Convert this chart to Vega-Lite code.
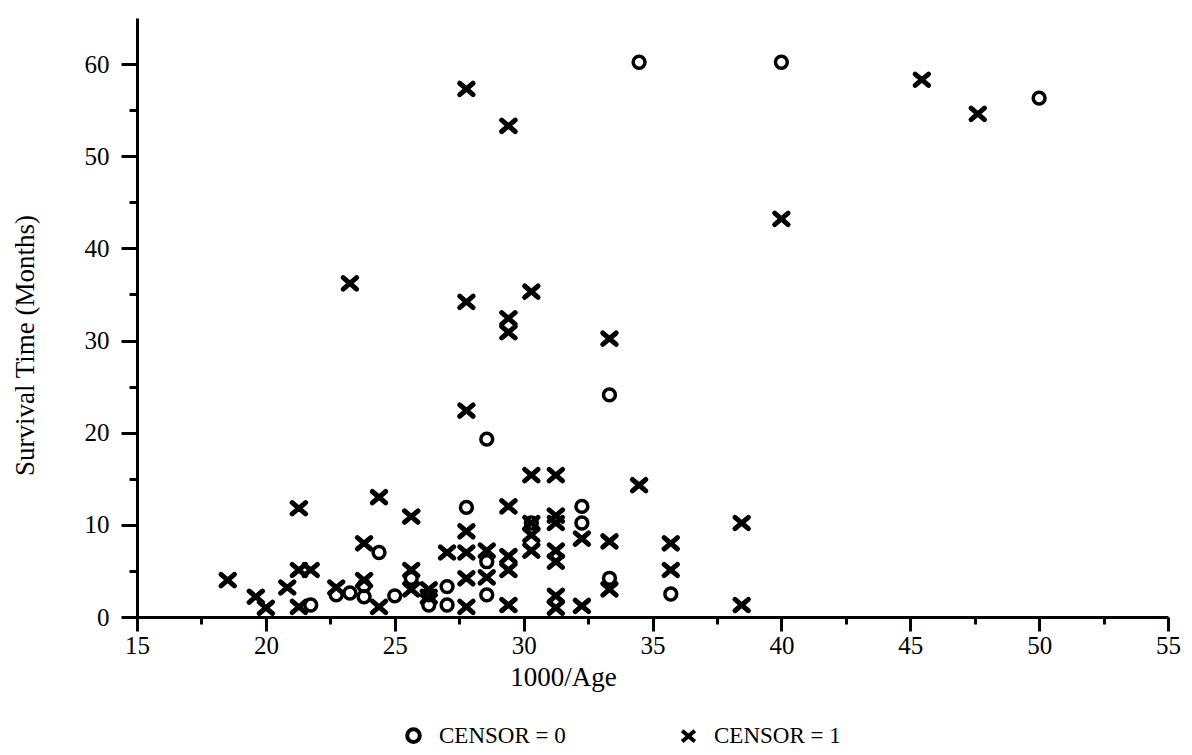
{
  "$schema": "https://vega.github.io/schema/vega-lite/v6.json",
  "width": 1031,
  "height": 599,
  "autosize": {"type": "none"},
  "padding": {"left": 137, "top": 18, "right": 24, "bottom": 138},
  "background": "white",
  "config": {
    "view": {"stroke": null},
    "font": "Liberation Serif",
    "axis": {
      "labelFont": "Liberation Serif",
      "titleFont": "Liberation Serif",
      "labelColor": "black",
      "titleColor": "black",
      "domainColor": "black",
      "tickColor": "black",
      "domainWidth": 3,
      "tickWidth": 3,
      "grid": false,
      "labelFontSize": 25,
      "titleFontSize": 27,
      "titleFontWeight": "normal"
    },
    "legend": {
      "labelFont": "Liberation Serif",
      "labelFontSize": 23,
      "labelColor": "black"
    }
  },
  "data": {
    "values": [
      {"x": 34.48, "y": 60.2, "censor": 0},
      {"x": 40.0, "y": 60.2, "censor": 0},
      {"x": 50.0, "y": 56.3, "censor": 0},
      {"x": 33.33, "y": 24.1, "censor": 0},
      {"x": 28.57, "y": 19.3, "censor": 0},
      {"x": 27.78, "y": 11.9, "censor": 0},
      {"x": 24.39, "y": 7.0, "censor": 0},
      {"x": 32.26, "y": 12.0, "censor": 0},
      {"x": 32.26, "y": 10.2, "censor": 0},
      {"x": 30.30, "y": 10.2, "censor": 0},
      {"x": 33.33, "y": 4.2, "censor": 0},
      {"x": 35.71, "y": 2.5, "censor": 0},
      {"x": 28.57, "y": 6.0, "censor": 0},
      {"x": 28.57, "y": 2.4, "censor": 0},
      {"x": 27.03, "y": 3.3, "censor": 0},
      {"x": 27.03, "y": 1.3, "censor": 0},
      {"x": 26.32, "y": 1.3, "censor": 0},
      {"x": 26.32, "y": 2.4, "censor": 0},
      {"x": 25.64, "y": 4.2, "censor": 0},
      {"x": 25.0, "y": 2.3, "censor": 0},
      {"x": 23.81, "y": 3.4, "censor": 0},
      {"x": 23.81, "y": 2.2, "censor": 0},
      {"x": 22.73, "y": 2.4, "censor": 0},
      {"x": 21.74, "y": 1.3, "censor": 0},
      {"x": 23.26, "y": 2.6, "censor": 0},
      {"x": 45.45, "y": 58.3, "censor": 1},
      {"x": 47.62, "y": 54.6, "censor": 1},
      {"x": 40.0, "y": 43.2, "censor": 1},
      {"x": 27.78, "y": 57.3, "censor": 1},
      {"x": 29.41, "y": 53.3, "censor": 1},
      {"x": 23.26, "y": 36.2, "censor": 1},
      {"x": 27.78, "y": 34.2, "censor": 1},
      {"x": 29.41, "y": 32.4, "censor": 1},
      {"x": 29.41, "y": 30.9, "censor": 1},
      {"x": 30.30, "y": 35.3, "censor": 1},
      {"x": 33.33, "y": 30.2, "censor": 1},
      {"x": 27.78, "y": 22.4, "censor": 1},
      {"x": 34.48, "y": 14.3, "censor": 1},
      {"x": 21.28, "y": 11.8, "censor": 1},
      {"x": 24.39, "y": 13.0, "censor": 1},
      {"x": 25.64, "y": 10.9, "censor": 1},
      {"x": 23.81, "y": 8.0, "censor": 1},
      {"x": 27.78, "y": 9.3, "censor": 1},
      {"x": 27.03, "y": 7.0, "censor": 1},
      {"x": 27.78, "y": 7.0, "censor": 1},
      {"x": 28.57, "y": 7.2, "censor": 1},
      {"x": 29.41, "y": 12.0, "censor": 1},
      {"x": 29.41, "y": 6.6, "censor": 1},
      {"x": 29.41, "y": 5.1, "censor": 1},
      {"x": 29.41, "y": 1.3, "censor": 1},
      {"x": 30.30, "y": 15.4, "censor": 1},
      {"x": 30.30, "y": 10.2, "censor": 1},
      {"x": 30.30, "y": 8.9, "censor": 1},
      {"x": 30.30, "y": 7.2, "censor": 1},
      {"x": 31.25, "y": 15.4, "censor": 1},
      {"x": 31.25, "y": 11.0, "censor": 1},
      {"x": 31.25, "y": 10.2, "censor": 1},
      {"x": 31.25, "y": 7.2, "censor": 1},
      {"x": 31.25, "y": 6.0, "censor": 1},
      {"x": 31.25, "y": 2.3, "censor": 1},
      {"x": 31.25, "y": 1.0, "censor": 1},
      {"x": 32.26, "y": 8.5, "censor": 1},
      {"x": 32.26, "y": 1.2, "censor": 1},
      {"x": 33.33, "y": 8.2, "censor": 1},
      {"x": 33.33, "y": 3.0, "censor": 1},
      {"x": 35.71, "y": 8.0, "censor": 1},
      {"x": 35.71, "y": 5.1, "censor": 1},
      {"x": 38.46, "y": 10.2, "censor": 1},
      {"x": 38.46, "y": 1.3, "censor": 1},
      {"x": 18.52, "y": 4.0, "censor": 1},
      {"x": 19.61, "y": 2.2, "censor": 1},
      {"x": 20.0, "y": 1.0, "censor": 1},
      {"x": 20.83, "y": 3.2, "censor": 1},
      {"x": 21.28, "y": 5.1, "censor": 1},
      {"x": 21.74, "y": 5.1, "censor": 1},
      {"x": 21.28, "y": 1.1, "censor": 1},
      {"x": 22.73, "y": 3.2, "censor": 1},
      {"x": 23.81, "y": 4.0, "censor": 1},
      {"x": 24.39, "y": 1.1, "censor": 1},
      {"x": 25.64, "y": 5.1, "censor": 1},
      {"x": 25.64, "y": 3.0, "censor": 1},
      {"x": 26.32, "y": 3.0, "censor": 1},
      {"x": 26.32, "y": 2.2, "censor": 1},
      {"x": 27.78, "y": 4.2, "censor": 1},
      {"x": 27.78, "y": 1.1, "censor": 1},
      {"x": 28.57, "y": 4.3, "censor": 1}
    ]
  },
  "encoding": {
    "x": {
      "field": "x", "type": "quantitative",
      "scale": {"domain": [15, 55], "nice": false, "zero": false},
      "axis": {
        "title": "1000/Age",
        "values": [15, 17.5, 20, 22.5, 25, 27.5, 30, 32.5, 35, 37.5, 40, 42.5, 45, 47.5, 50, 52.5, 55],
        "labelExpr": "datum.value % 5 === 0 ? datum.label : ''",
        "tickSize": {"condition": {"test": "datum.value % 5 === 0", "value": 14}, "value": 7},
        "labelPadding": 2,
        "labelFlush": false,
        "labelOverlap": false,
        "titleX": 426,
        "titleY": 60,
        "titleBaseline": "middle",
        "titleAlign": "center",
        "titleAnchor": null
      }
    },
    "y": {
      "field": "y", "type": "quantitative",
      "scale": {"domain": [0, 65], "nice": false, "zero": true},
      "axis": {
        "title": "Survival Time (Months)",
        "values": [0, 5, 10, 15, 20, 25, 30, 35, 40, 45, 50, 55, 60],
        "labelExpr": "datum.value % 10 === 0 ? datum.label : ''",
        "tickSize": {"condition": {"test": "datum.value % 10 === 0", "value": 16}, "value": 8},
        "labelPadding": 12,
        "labelFlush": false,
        "labelOverlap": false,
        "titleX": -112,
        "titleY": 327,
        "titleBaseline": "middle",
        "titleAlign": "center",
        "titleAnchor": null
      }
    },
    "shape": {
      "field": "censor", "type": "nominal",
      "scale": {"domain": [0, 1], "range": ["circle", "M-1,-0.85L1,0.85M1,-0.85L-1,0.85"]},
      "legend": {
        "title": null,
        "orient": "none",
        "direction": "horizontal",
        "legendX": 265,
        "legendY": 706,
        "labelExpr": "'CENSOR = ' + datum.label",
        "labelOffset": 14,
        "columnPadding": 108,
        "symbolStrokeColor": "black",
        "symbolStrokeWidth": 4,
        "symbolSize": 160
      }
    }
  },
  "layer": [
    {
      "transform": [{"filter": "datum.censor === 0"}],
      "mark": {"type": "point", "filled": false, "color": "black", "opacity": 1, "size": 140, "strokeWidth": 3.5}
    },
    {
      "transform": [{"filter": "datum.censor === 1"}],
      "mark": {"type": "point", "filled": false, "color": "black", "opacity": 1, "size": 180, "strokeWidth": 5, "strokeCap": "round"}
    }
  ]
}
